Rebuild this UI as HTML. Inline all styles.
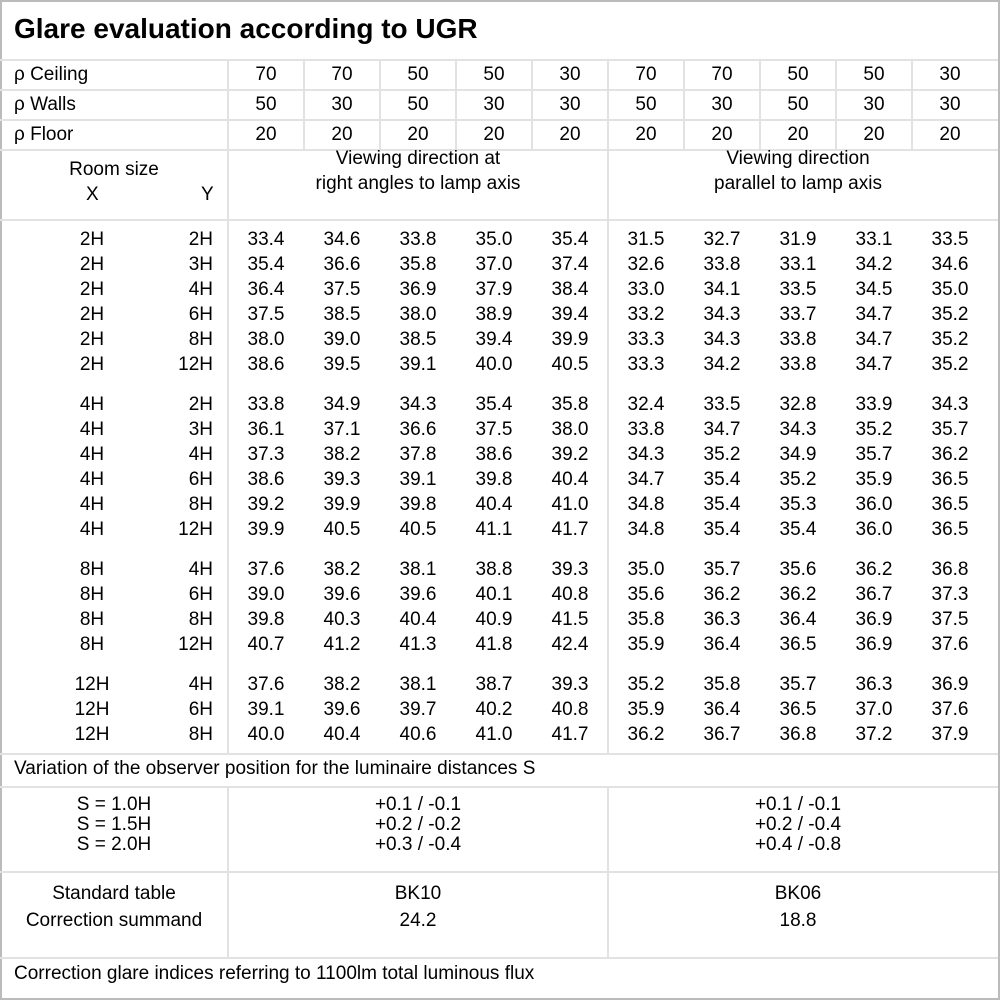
<!DOCTYPE html>
<html><head><meta charset="utf-8"><style>
body{margin:0;width:1000px;height:1000px;background:#fff;position:relative;overflow:hidden;font-family:"Liberation Sans","DejaVu Sans",sans-serif;font-size:19px;color:#000}
.h{position:absolute;height:2px;background:#e2e2e2;left:0;width:998px}
.v{position:absolute;width:2px;background:#e2e2e2}
.r{position:absolute;left:0;width:1000px;height:25px;line-height:25px;white-space:nowrap}
.r span{position:absolute;top:0;text-align:center;width:76px}
.r .x{left:0;width:184px}
.r .y{left:150px;width:63px;text-align:right}
.t{position:absolute;white-space:nowrap;line-height:25px}
.c{text-align:center}
</style></head><body>
<div class="v" style="left:0;top:0;height:1000px;background:#bbb"></div>
<div class="v" style="left:998px;top:0;height:1000px;background:#bbb"></div>
<div class="h" style="top:0;width:1000px;background:#bbb"></div>
<div class="h" style="top:998px;width:1000px;background:#bbb"></div>
<div class="t" style="left:14px;top:13px;font-size:28px;font-weight:bold;line-height:32px">Glare evaluation according to UGR</div>
<div class="h" style="top:59px"></div><div class="h" style="top:89px"></div><div class="h" style="top:119px"></div><div class="h" style="top:149px"></div><div class="h" style="top:219px"></div><div class="h" style="top:753px"></div><div class="h" style="top:786px"></div><div class="h" style="top:871px"></div><div class="h" style="top:957px"></div>
<div class="v" style="left:227px;top:60px;height:694px"></div>
<div class="v" style="left:227px;top:787px;height:171px"></div>
<div class="v" style="left:607px;top:150px;height:604px"></div>
<div class="v" style="left:607px;top:787px;height:171px"></div>
<div class="v" style="left:303px;top:60px;height:90px"></div><div class="v" style="left:379px;top:60px;height:90px"></div><div class="v" style="left:455px;top:60px;height:90px"></div><div class="v" style="left:531px;top:60px;height:90px"></div><div class="v" style="left:607px;top:60px;height:90px"></div><div class="v" style="left:683px;top:60px;height:90px"></div><div class="v" style="left:759px;top:60px;height:90px"></div><div class="v" style="left:835px;top:60px;height:90px"></div><div class="v" style="left:911px;top:60px;height:90px"></div>
<div class="r" style="top:62px"><span style="left:14px;width:200px;text-align:left">ρ Ceiling</span><span style="left:228px">70</span><span style="left:304px">70</span><span style="left:380px">50</span><span style="left:456px">50</span><span style="left:532px">30</span><span style="left:608px">70</span><span style="left:684px">70</span><span style="left:760px">50</span><span style="left:836px">50</span><span style="left:912px">30</span></div>
<div class="r" style="top:92px"><span style="left:14px;width:200px;text-align:left">ρ Walls</span><span style="left:228px">50</span><span style="left:304px">30</span><span style="left:380px">50</span><span style="left:456px">30</span><span style="left:532px">30</span><span style="left:608px">50</span><span style="left:684px">30</span><span style="left:760px">50</span><span style="left:836px">30</span><span style="left:912px">30</span></div>
<div class="r" style="top:122px"><span style="left:14px;width:200px;text-align:left">ρ Floor</span><span style="left:228px">20</span><span style="left:304px">20</span><span style="left:380px">20</span><span style="left:456px">20</span><span style="left:532px">20</span><span style="left:608px">20</span><span style="left:684px">20</span><span style="left:760px">20</span><span style="left:836px">20</span><span style="left:912px">20</span></div>
<div class="t c" style="left:0;width:228px;top:157px">Room size</div>
<div class="t" style="left:86px;top:182px">X</div><div class="t" style="left:201px;top:182px">Y</div>
<div class="t c" style="left:228px;width:380px;top:146px">Viewing direction at<br>right angles to lamp axis</div>
<div class="t c" style="left:608px;width:380px;top:146px">Viewing direction<br>parallel to lamp axis</div>

<div class="r" style="top:227px"><span class="x">2H</span><span class="y">2H</span><span style="left:228px">33.4</span><span style="left:304px">34.6</span><span style="left:380px">33.8</span><span style="left:456px">35.0</span><span style="left:532px">35.4</span><span style="left:608px">31.5</span><span style="left:684px">32.7</span><span style="left:760px">31.9</span><span style="left:836px">33.1</span><span style="left:912px">33.5</span></div>
<div class="r" style="top:252px"><span class="x">2H</span><span class="y">3H</span><span style="left:228px">35.4</span><span style="left:304px">36.6</span><span style="left:380px">35.8</span><span style="left:456px">37.0</span><span style="left:532px">37.4</span><span style="left:608px">32.6</span><span style="left:684px">33.8</span><span style="left:760px">33.1</span><span style="left:836px">34.2</span><span style="left:912px">34.6</span></div>
<div class="r" style="top:277px"><span class="x">2H</span><span class="y">4H</span><span style="left:228px">36.4</span><span style="left:304px">37.5</span><span style="left:380px">36.9</span><span style="left:456px">37.9</span><span style="left:532px">38.4</span><span style="left:608px">33.0</span><span style="left:684px">34.1</span><span style="left:760px">33.5</span><span style="left:836px">34.5</span><span style="left:912px">35.0</span></div>
<div class="r" style="top:302px"><span class="x">2H</span><span class="y">6H</span><span style="left:228px">37.5</span><span style="left:304px">38.5</span><span style="left:380px">38.0</span><span style="left:456px">38.9</span><span style="left:532px">39.4</span><span style="left:608px">33.2</span><span style="left:684px">34.3</span><span style="left:760px">33.7</span><span style="left:836px">34.7</span><span style="left:912px">35.2</span></div>
<div class="r" style="top:327px"><span class="x">2H</span><span class="y">8H</span><span style="left:228px">38.0</span><span style="left:304px">39.0</span><span style="left:380px">38.5</span><span style="left:456px">39.4</span><span style="left:532px">39.9</span><span style="left:608px">33.3</span><span style="left:684px">34.3</span><span style="left:760px">33.8</span><span style="left:836px">34.7</span><span style="left:912px">35.2</span></div>
<div class="r" style="top:352px"><span class="x">2H</span><span class="y">12H</span><span style="left:228px">38.6</span><span style="left:304px">39.5</span><span style="left:380px">39.1</span><span style="left:456px">40.0</span><span style="left:532px">40.5</span><span style="left:608px">33.3</span><span style="left:684px">34.2</span><span style="left:760px">33.8</span><span style="left:836px">34.7</span><span style="left:912px">35.2</span></div>

<div class="r" style="top:392px"><span class="x">4H</span><span class="y">2H</span><span style="left:228px">33.8</span><span style="left:304px">34.9</span><span style="left:380px">34.3</span><span style="left:456px">35.4</span><span style="left:532px">35.8</span><span style="left:608px">32.4</span><span style="left:684px">33.5</span><span style="left:760px">32.8</span><span style="left:836px">33.9</span><span style="left:912px">34.3</span></div>
<div class="r" style="top:417px"><span class="x">4H</span><span class="y">3H</span><span style="left:228px">36.1</span><span style="left:304px">37.1</span><span style="left:380px">36.6</span><span style="left:456px">37.5</span><span style="left:532px">38.0</span><span style="left:608px">33.8</span><span style="left:684px">34.7</span><span style="left:760px">34.3</span><span style="left:836px">35.2</span><span style="left:912px">35.7</span></div>
<div class="r" style="top:442px"><span class="x">4H</span><span class="y">4H</span><span style="left:228px">37.3</span><span style="left:304px">38.2</span><span style="left:380px">37.8</span><span style="left:456px">38.6</span><span style="left:532px">39.2</span><span style="left:608px">34.3</span><span style="left:684px">35.2</span><span style="left:760px">34.9</span><span style="left:836px">35.7</span><span style="left:912px">36.2</span></div>
<div class="r" style="top:467px"><span class="x">4H</span><span class="y">6H</span><span style="left:228px">38.6</span><span style="left:304px">39.3</span><span style="left:380px">39.1</span><span style="left:456px">39.8</span><span style="left:532px">40.4</span><span style="left:608px">34.7</span><span style="left:684px">35.4</span><span style="left:760px">35.2</span><span style="left:836px">35.9</span><span style="left:912px">36.5</span></div>
<div class="r" style="top:492px"><span class="x">4H</span><span class="y">8H</span><span style="left:228px">39.2</span><span style="left:304px">39.9</span><span style="left:380px">39.8</span><span style="left:456px">40.4</span><span style="left:532px">41.0</span><span style="left:608px">34.8</span><span style="left:684px">35.4</span><span style="left:760px">35.3</span><span style="left:836px">36.0</span><span style="left:912px">36.5</span></div>
<div class="r" style="top:517px"><span class="x">4H</span><span class="y">12H</span><span style="left:228px">39.9</span><span style="left:304px">40.5</span><span style="left:380px">40.5</span><span style="left:456px">41.1</span><span style="left:532px">41.7</span><span style="left:608px">34.8</span><span style="left:684px">35.4</span><span style="left:760px">35.4</span><span style="left:836px">36.0</span><span style="left:912px">36.5</span></div>

<div class="r" style="top:557px"><span class="x">8H</span><span class="y">4H</span><span style="left:228px">37.6</span><span style="left:304px">38.2</span><span style="left:380px">38.1</span><span style="left:456px">38.8</span><span style="left:532px">39.3</span><span style="left:608px">35.0</span><span style="left:684px">35.7</span><span style="left:760px">35.6</span><span style="left:836px">36.2</span><span style="left:912px">36.8</span></div>
<div class="r" style="top:582px"><span class="x">8H</span><span class="y">6H</span><span style="left:228px">39.0</span><span style="left:304px">39.6</span><span style="left:380px">39.6</span><span style="left:456px">40.1</span><span style="left:532px">40.8</span><span style="left:608px">35.6</span><span style="left:684px">36.2</span><span style="left:760px">36.2</span><span style="left:836px">36.7</span><span style="left:912px">37.3</span></div>
<div class="r" style="top:607px"><span class="x">8H</span><span class="y">8H</span><span style="left:228px">39.8</span><span style="left:304px">40.3</span><span style="left:380px">40.4</span><span style="left:456px">40.9</span><span style="left:532px">41.5</span><span style="left:608px">35.8</span><span style="left:684px">36.3</span><span style="left:760px">36.4</span><span style="left:836px">36.9</span><span style="left:912px">37.5</span></div>
<div class="r" style="top:632px"><span class="x">8H</span><span class="y">12H</span><span style="left:228px">40.7</span><span style="left:304px">41.2</span><span style="left:380px">41.3</span><span style="left:456px">41.8</span><span style="left:532px">42.4</span><span style="left:608px">35.9</span><span style="left:684px">36.4</span><span style="left:760px">36.5</span><span style="left:836px">36.9</span><span style="left:912px">37.6</span></div>

<div class="r" style="top:672px"><span class="x">12H</span><span class="y">4H</span><span style="left:228px">37.6</span><span style="left:304px">38.2</span><span style="left:380px">38.1</span><span style="left:456px">38.7</span><span style="left:532px">39.3</span><span style="left:608px">35.2</span><span style="left:684px">35.8</span><span style="left:760px">35.7</span><span style="left:836px">36.3</span><span style="left:912px">36.9</span></div>
<div class="r" style="top:697px"><span class="x">12H</span><span class="y">6H</span><span style="left:228px">39.1</span><span style="left:304px">39.6</span><span style="left:380px">39.7</span><span style="left:456px">40.2</span><span style="left:532px">40.8</span><span style="left:608px">35.9</span><span style="left:684px">36.4</span><span style="left:760px">36.5</span><span style="left:836px">37.0</span><span style="left:912px">37.6</span></div>
<div class="r" style="top:722px"><span class="x">12H</span><span class="y">8H</span><span style="left:228px">40.0</span><span style="left:304px">40.4</span><span style="left:380px">40.6</span><span style="left:456px">41.0</span><span style="left:532px">41.7</span><span style="left:608px">36.2</span><span style="left:684px">36.7</span><span style="left:760px">36.8</span><span style="left:836px">37.2</span><span style="left:912px">37.9</span></div>

<div class="t" style="left:14px;top:756px">Variation of the observer position for the luminaire distances S</div>
<div class="t c" style="left:0;width:228px;top:795px;line-height:20px">S = 1.0H<br>S = 1.5H<br>S = 2.0H</div>
<div class="t c" style="left:228px;width:380px;top:795px;line-height:20px">+0.1 / -0.1<br>+0.2 / -0.2<br>+0.3 / -0.4</div>
<div class="t c" style="left:608px;width:380px;top:795px;line-height:20px">+0.1 / -0.1<br>+0.2 / -0.4<br>+0.4 / -0.8</div>
<div class="t c" style="left:0;width:228px;top:880px;line-height:27px">Standard table<br>Correction summand</div>
<div class="t c" style="left:228px;width:380px;top:880px;line-height:27px">BK10<br>24.2</div>
<div class="t c" style="left:608px;width:380px;top:880px;line-height:27px">BK06<br>18.8</div>
<div class="t" style="left:14px;top:961px">Correction glare indices referring to 1100lm total luminous flux</div>
</body></html>
